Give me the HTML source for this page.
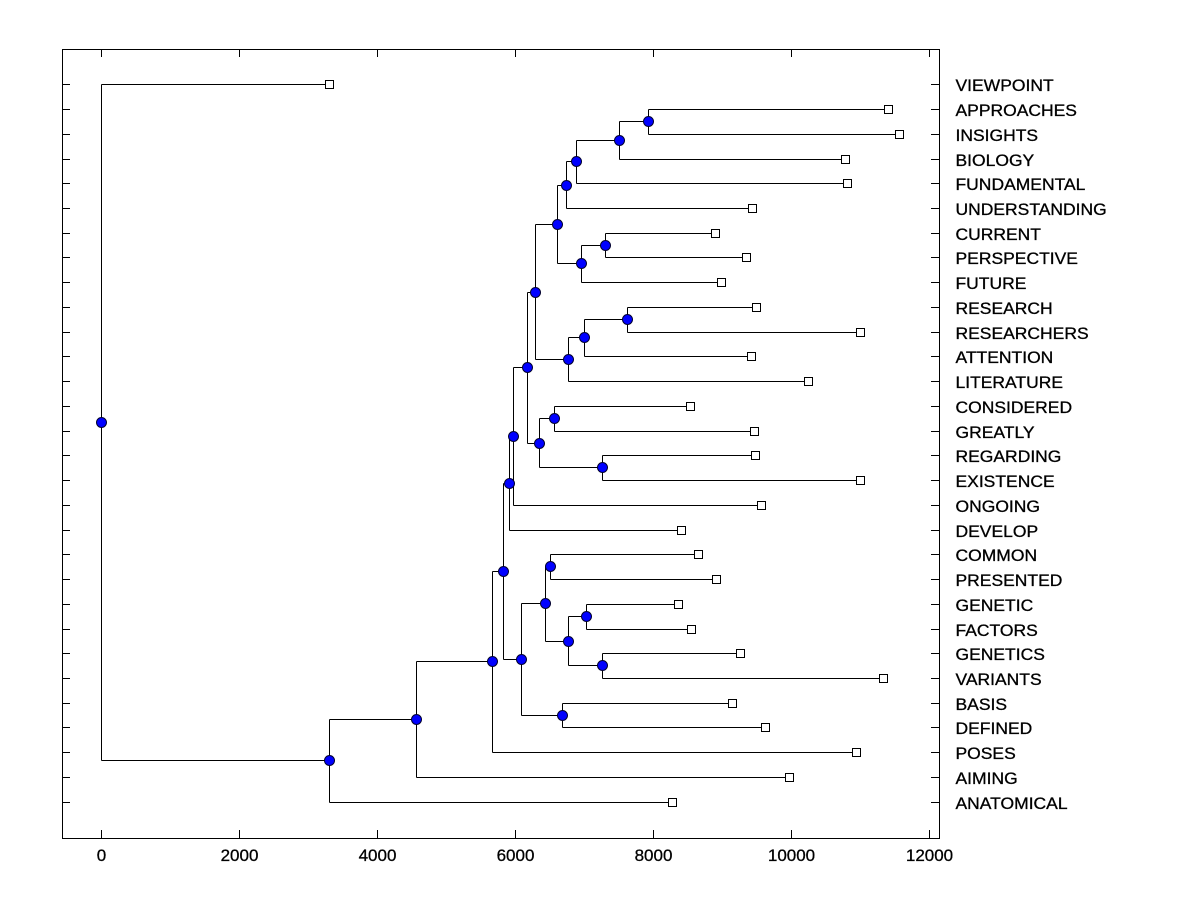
<!DOCTYPE html>
<html>
<head>
<meta charset="utf-8">
<style>
html,body{margin:0;padding:0;background:#fff;}
svg{display:block;}
text{font-family:"Liberation Sans",Arial,sans-serif;font-size:17px;fill:#000;stroke:#000;stroke-width:0.3px;}
.lbl text{font-size:16.5px;}
</style>
</head>
<body>
<svg width="1200" height="900" viewBox="0 0 1200 900" xmlns="http://www.w3.org/2000/svg">
<rect x="0" y="0" width="1200" height="900" fill="#fff"/>
<g shape-rendering="crispEdges" stroke="#000" stroke-width="1" fill="none">
<rect x="62.5" y="49.5" width="877" height="789"/>
<path d="M101.5 838V830M239.5 838V830M377.5 838V830M515.5 838V830M653.5 838V830M791.5 838V830M929.5 838V830
M101.5 49V57M239.5 49V57M377.5 49V57M515.5 49V57M653.5 49V57M791.5 49V57M929.5 49V57"/>
<path d="M62 84.5H70M62 109.5H70M62 134.5H70M62 159.5H70M62 183.5H70M62 208.5H70M62 233.5H70M62 257.5H70M62 282.5H70M62 307.5H70M62 332.5H70M62 356.5H70M62 381.5H70M62 406.5H70M62 431.5H70M62 455.5H70M62 480.5H70M62 505.5H70M62 530.5H70M62 554.5H70M62 579.5H70M62 604.5H70M62 629.5H70M62 653.5H70M62 678.5H70M62 703.5H70M62 727.5H70M62 752.5H70M62 777.5H70M62 802.5H70"/>
<path d="M931 84.5H939M931 109.5H939M931 134.5H939M931 159.5H939M931 183.5H939M931 208.5H939M931 233.5H939M931 257.5H939M931 282.5H939M931 307.5H939M931 332.5H939M931 356.5H939M931 381.5H939M931 406.5H939M931 431.5H939M931 455.5H939M931 480.5H939M931 505.5H939M931 530.5H939M931 554.5H939M931 579.5H939M931 604.5H939M931 629.5H939M931 653.5H939M931 678.5H939M931 703.5H939M931 727.5H939M931 752.5H939M931 777.5H939M931 802.5H939"/>
<path d="
M648.5 109.5H888.5M648.5 134.5H899.5M648.5 109.5V134.5
M619.5 121.5H648.5M619.5 159.5H845.5M619.5 121.5V159.5
M576.5 140.5H619.5M576.5 183.5H847.5M576.5 140.5V183.5
M566.5 161.5H576.5M566.5 208.5H752.5M566.5 161.5V208.5
M605.5 233.5H715.5M605.5 257.5H746.5M605.5 233.5V257.5
M581.5 245.5H605.5M581.5 282.5H721.5M581.5 245.5V282.5
M557.5 185.5H566.5M557.5 263.5H581.5M557.5 185.5V263.5
M627.5 307.5H756.5M627.5 332.5H860.5M627.5 307.5V332.5
M584.5 319.5H627.5M584.5 356.5H751.5M584.5 319.5V356.5
M568.5 337.5H584.5M568.5 381.5H808.5M568.5 337.5V381.5
M535.5 224.5H557.5M535.5 359.5H568.5M535.5 224.5V359.5
M554.5 406.5H690.5M554.5 431.5H754.5M554.5 406.5V431.5
M602.5 455.5H755.5M602.5 480.5H860.5M602.5 455.5V480.5
M539.5 418.5H554.5M539.5 467.5H602.5M539.5 418.5V467.5
M527.5 292.5H535.5M527.5 443.5H539.5M527.5 292.5V443.5
M513.5 367.5H527.5M513.5 505.5H761.5M513.5 367.5V505.5
M509.5 436.5H513.5M509.5 530.5H681.5M509.5 436.5V530.5
M550.5 554.5H698.5M550.5 579.5H716.5M550.5 554.5V579.5
M586.5 604.5H678.5M586.5 629.5H691.5M586.5 604.5V629.5
M602.5 653.5H740.5M602.5 678.5H883.5M602.5 653.5V678.5
M568.5 616.5H586.5M568.5 665.5H602.5M568.5 616.5V665.5
M545.5 566.5H550.5M545.5 641.5H568.5M545.5 566.5V641.5
M562.5 703.5H732.5M562.5 727.5H765.5M562.5 703.5V727.5
M521.5 603.5H545.5M521.5 715.5H562.5M521.5 603.5V715.5
M503.5 483.5H509.5M503.5 659.5H521.5M503.5 483.5V659.5
M492.5 571.5H503.5M492.5 752.5H856.5M492.5 571.5V752.5
M416.5 661.5H492.5M416.5 777.5H789.5M416.5 661.5V777.5
M329.5 719.5H416.5M329.5 802.5H672.5M329.5 719.5V802.5
M101.5 84.5H329.5M101.5 760.5H329.5M101.5 84.5V760.5"/>
</g>
<g stroke="#000" stroke-width="1" fill="#fff" shape-rendering="crispEdges">
<rect x="325.5" y="80.5" width="8" height="8"/>
<rect x="884.5" y="105.5" width="8" height="8"/>
<rect x="895.5" y="130.5" width="8" height="8"/>
<rect x="841.5" y="155.5" width="8" height="8"/>
<rect x="843.5" y="179.5" width="8" height="8"/>
<rect x="748.5" y="204.5" width="8" height="8"/>
<rect x="711.5" y="229.5" width="8" height="8"/>
<rect x="742.5" y="253.5" width="8" height="8"/>
<rect x="717.5" y="278.5" width="8" height="8"/>
<rect x="752.5" y="303.5" width="8" height="8"/>
<rect x="856.5" y="328.5" width="8" height="8"/>
<rect x="747.5" y="352.5" width="8" height="8"/>
<rect x="804.5" y="377.5" width="8" height="8"/>
<rect x="686.5" y="402.5" width="8" height="8"/>
<rect x="750.5" y="427.5" width="8" height="8"/>
<rect x="751.5" y="451.5" width="8" height="8"/>
<rect x="856.5" y="476.5" width="8" height="8"/>
<rect x="757.5" y="501.5" width="8" height="8"/>
<rect x="677.5" y="526.5" width="8" height="8"/>
<rect x="694.5" y="550.5" width="8" height="8"/>
<rect x="712.5" y="575.5" width="8" height="8"/>
<rect x="674.5" y="600.5" width="8" height="8"/>
<rect x="687.5" y="625.5" width="8" height="8"/>
<rect x="736.5" y="649.5" width="8" height="8"/>
<rect x="879.5" y="674.5" width="8" height="8"/>
<rect x="728.5" y="699.5" width="8" height="8"/>
<rect x="761.5" y="723.5" width="8" height="8"/>
<rect x="852.5" y="748.5" width="8" height="8"/>
<rect x="785.5" y="773.5" width="8" height="8"/>
<rect x="668.5" y="798.5" width="8" height="8"/>
</g>
<g fill="#0000ff" stroke="#000030" stroke-width="1">
<circle cx="648.5" cy="121.5" r="5"/>
<circle cx="619.5" cy="140.5" r="5"/>
<circle cx="576.5" cy="161.5" r="5"/>
<circle cx="566.5" cy="185.5" r="5"/>
<circle cx="605.5" cy="245.5" r="5"/>
<circle cx="581.5" cy="263.5" r="5"/>
<circle cx="557.5" cy="224.5" r="5"/>
<circle cx="627.5" cy="319.5" r="5"/>
<circle cx="584.5" cy="337.5" r="5"/>
<circle cx="568.5" cy="359.5" r="5"/>
<circle cx="535.5" cy="292.5" r="5"/>
<circle cx="554.5" cy="418.5" r="5"/>
<circle cx="602.5" cy="467.5" r="5"/>
<circle cx="539.5" cy="443.5" r="5"/>
<circle cx="527.5" cy="367.5" r="5"/>
<circle cx="513.5" cy="436.5" r="5"/>
<circle cx="509.5" cy="483.5" r="5"/>
<circle cx="550.5" cy="566.5" r="5"/>
<circle cx="586.5" cy="616.5" r="5"/>
<circle cx="602.5" cy="665.5" r="5"/>
<circle cx="568.5" cy="641.5" r="5"/>
<circle cx="545.5" cy="603.5" r="5"/>
<circle cx="562.5" cy="715.5" r="5"/>
<circle cx="521.5" cy="659.5" r="5"/>
<circle cx="503.5" cy="571.5" r="5"/>
<circle cx="492.5" cy="661.5" r="5"/>
<circle cx="416.5" cy="719.5" r="5"/>
<circle cx="329.5" cy="760.5" r="5"/>
<circle cx="101.5" cy="422.5" r="5"/>
</g>
<g text-anchor="middle">
<text x="101.5" y="861">0</text>
<text x="239.5" y="861">2000</text>
<text x="377.5" y="861">4000</text>
<text x="515.5" y="861">6000</text>
<text x="653.5" y="861">8000</text>
<text x="791.5" y="861">10000</text>
<text x="929.5" y="861">12000</text>
</g>
<g class="lbl" transform="translate(955.5,0) scale(1.06,1)">
<text x="0" y="91">VIEWPOINT</text>
<text x="0" y="116">APPROACHES</text>
<text x="0" y="141">INSIGHTS</text>
<text x="0" y="166">BIOLOGY</text>
<text x="0" y="190">FUNDAMENTAL</text>
<text x="0" y="215">UNDERSTANDING</text>
<text x="0" y="240">CURRENT</text>
<text x="0" y="264">PERSPECTIVE</text>
<text x="0" y="289">FUTURE</text>
<text x="0" y="314">RESEARCH</text>
<text x="0" y="339">RESEARCHERS</text>
<text x="0" y="363">ATTENTION</text>
<text x="0" y="388">LITERATURE</text>
<text x="0" y="413">CONSIDERED</text>
<text x="0" y="438">GREATLY</text>
<text x="0" y="462">REGARDING</text>
<text x="0" y="487">EXISTENCE</text>
<text x="0" y="512">ONGOING</text>
<text x="0" y="537">DEVELOP</text>
<text x="0" y="561">COMMON</text>
<text x="0" y="586">PRESENTED</text>
<text x="0" y="611">GENETIC</text>
<text x="0" y="636">FACTORS</text>
<text x="0" y="660">GENETICS</text>
<text x="0" y="685">VARIANTS</text>
<text x="0" y="710">BASIS</text>
<text x="0" y="734">DEFINED</text>
<text x="0" y="759">POSES</text>
<text x="0" y="784">AIMING</text>
<text x="0" y="809">ANATOMICAL</text>
</g>
</svg>
</body>
</html>
